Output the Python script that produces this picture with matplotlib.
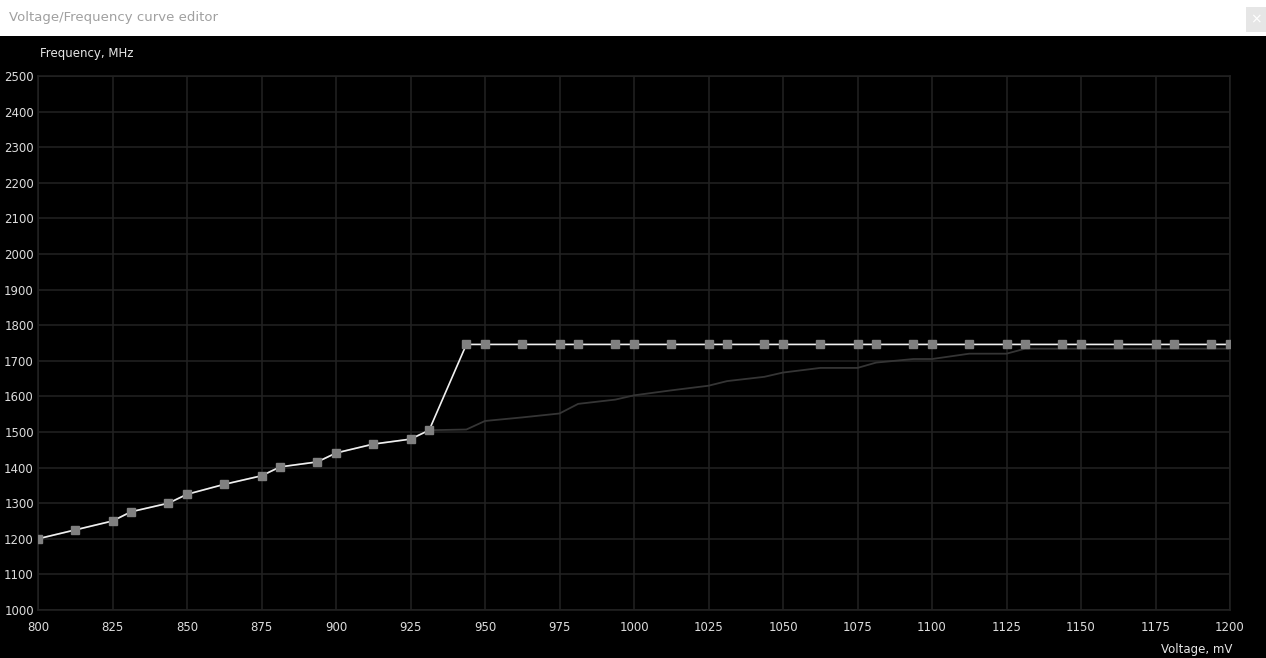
import matplotlib.pyplot as plt
import numpy as np

# voltage points, mV
volts = [800, 812.5, 825, 831.25, 843.75, 850, 862.5, 875, 881.25, 893.75,
         900, 912.5, 925, 931.25, 943.75, 950, 962.5, 975, 981.25, 993.75,
         1000, 1012.5, 1025, 1031.25, 1043.75, 1050, 1062.5, 1075, 1081.25, 1093.75,
         1100, 1112.5, 1125, 1131.25, 1143.75, 1150, 1162.5, 1175, 1181.25, 1193.75,
         1200]

# edited curve, MHz
freq_edit = [1200, 1225, 1250, 1276, 1300, 1325, 1353, 1377, 1402, 1416,
             1441, 1466, 1480, 1505, 1746, 1746, 1746, 1746, 1746, 1746,
             1746, 1746, 1746, 1746, 1746, 1746, 1746, 1746, 1746, 1746,
             1746, 1746, 1746, 1746, 1746, 1746, 1746, 1746, 1746, 1746,
             1746]

# default curve, MHz
freq_base = [1200, 1225, 1250, 1276, 1300, 1325, 1353, 1377, 1402, 1416,
             1441, 1466, 1480, 1505, 1507, 1531, 1541, 1552, 1579, 1591,
             1603, 1617, 1630, 1643, 1655, 1667, 1680, 1680, 1695, 1705,
             1705, 1720, 1720, 1734, 1734, 1734, 1734, 1734, 1734, 1734,
             1734]

xticks = np.arange(800, 1201, 25)
yticks = np.arange(1000, 2501, 100)

fig = plt.figure(figsize=(12.66, 6.58), dpi=100)
fig.patch.set_facecolor('black')

# window title bar
fig.patches.append(plt.Rectangle((0, 1 - 36 / 658), 1, 36 / 658, transform=fig.transFigure,
                                 facecolor='white', edgecolor='none', zorder=0))
fig.patches.append(plt.Rectangle((1246 / 1266, 1 - 32 / 658), 20 / 1266, 25 / 658,
                                 transform=fig.transFigure, facecolor='#e6e6e6',
                                 edgecolor='none', zorder=1))
fig.text(9 / 1266, 1 - 17 / 658, 'Voltage/Frequency curve editor', color='#a0a0a0',
         fontsize=9.5, va='center', ha='left')
fig.text(1256 / 1266, 1 - 19 / 658, '×', color='white', fontsize=10, va='center', ha='center')

ax = fig.add_axes([38 / 1266, 48 / 658, 1192 / 1266, 534 / 658])
ax.set_facecolor('black')
ax.set_xlim(800, 1200)
ax.set_ylim(1000, 2500)
ax.set_xticks(xticks)
ax.set_yticks(yticks)
ax.grid(True, color='#222222', lw=1.1)
for s in ax.spines.values():
    s.set_color('#222222')
    s.set_linewidth(1.1)
ax.tick_params(length=0, colors='#dcdcdc', labelsize=8.5)
ax.tick_params(axis='x', pad=8)
ax.tick_params(axis='y', pad=3)

ax.plot(volts, freq_base, color='#353535', lw=1.3, zorder=2)
ax.plot(volts, freq_edit, color='#f0f0f0', lw=1.2, marker='s', markersize=6,
        markerfacecolor='#808080', markeredgecolor='#808080', zorder=3)

fig.text(40 / 1266, 1 - 54 / 658, 'Frequency, MHz', color='#e6e6e6', fontsize=8.5,
         va='center', ha='left')
fig.text(1232 / 1266, 1 - 649 / 658, 'Voltage, mV', color='#e6e6e6', fontsize=8.5,
         va='center', ha='right')

fig.savefig('out.png', dpi=100, facecolor=fig.get_facecolor())
